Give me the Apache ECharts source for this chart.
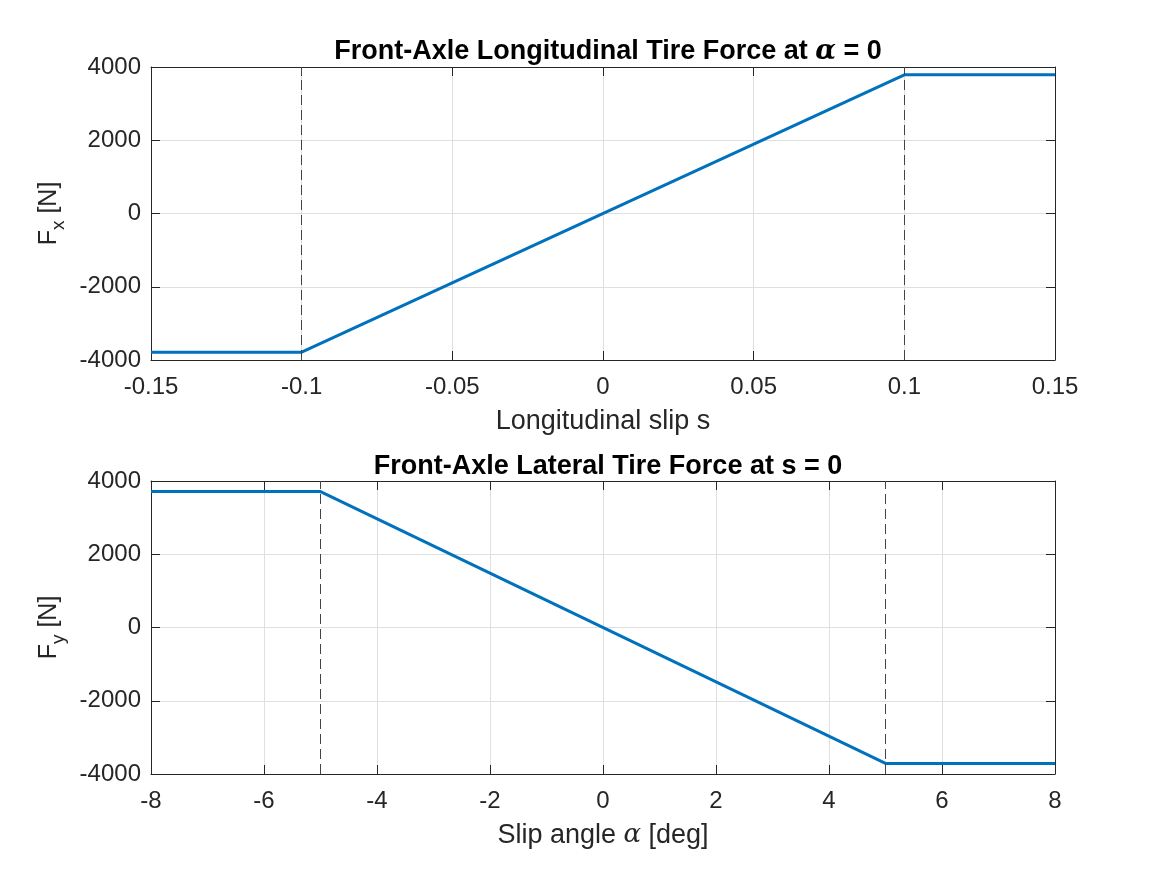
<!DOCTYPE html>
<html>
<head>
<meta charset="utf-8">
<script src="https://cdn.jsdelivr.net/npm/echarts@6/dist/echarts.min.js"></script>
<style>
  html, body { margin: 0; padding: 0; background: #fff; }
  #main { width: 1167px; height: 875px; }
</style>
</head>
<body>
<div id="main"></div>
<script>
// top panel: longitudinal force vs slip
var slipS = [-0.15, -0.1, 0.1, 0.15];
var forceFx = [-3785, -3785, 3785, 3785];
var slipPeak = [-0.1, 0.1];
var slipTicks = [-0.15, 0.15, 0.05];

// bottom panel: lateral force vs slip angle
var alphaDeg = [-8, -5, 5, 8];
var forceFy = [3710, 3710, -3710, -3710];
var alphaPeak = [-5, 5];
var alphaTicks = [-8, 8, 2];

var forceTicks = [-4000, 4000, 2000];

var myChart = echarts.init(document.getElementById('main'));

var font = '"Liberation Sans", Arial, sans-serif';
var greek = '"DejaVu Serif", serif';
var txt = '#262626';
var frame = '#262626';
var lineBlue = '#0072BD';

function pairs(xs, ys) {
    return xs.map(function (x, i) { return [x, ys[i]]; });
}

function plain(v) {
    return String(Math.round(v * 1000) / 1000);
}

function mainX(idx, ticks, name) {
    return {
        gridIndex: idx, type: 'value',
        min: ticks[0], max: ticks[1], interval: ticks[2],
        name: name, nameLocation: 'middle', nameGap: 48,
        nameTextStyle: {
            color: txt, fontFamily: font, fontSize: 27,
            rich: {
                n: { color: txt, fontFamily: font, fontSize: 27 },
                g: { color: txt, fontFamily: greek, fontStyle: 'italic', fontSize: 26 }
            }
        },
        axisLine: { onZero: false, lineStyle: { color: frame, width: 1 } },
        axisTick: { inside: true, length: 9, lineStyle: { color: frame } },
        axisLabel: { color: txt, fontFamily: font, fontSize: 24, margin: 15, formatter: plain },
        splitLine: { show: true, lineStyle: { color: '#dfdfdf', width: 1 } }
    };
}

function boxX(idx, ticks) {
    return {
        gridIndex: idx, type: 'value', position: 'top',
        min: ticks[0], max: ticks[1], interval: ticks[2],
        axisLine: { onZero: false, lineStyle: { color: frame, width: 1 } },
        axisTick: { inside: true, length: 9, lineStyle: { color: frame } },
        axisLabel: { show: false },
        splitLine: { show: false }
    };
}

function mainY(idx, sub) {
    return {
        gridIndex: idx, type: 'value',
        min: forceTicks[0], max: forceTicks[1], interval: forceTicks[2],
        name: '{n|F}{s|' + sub + '}{n| [N]}', nameLocation: 'middle', nameGap: 82,
        nameTextStyle: {
            rich: {
                n: { color: txt, fontFamily: font, fontSize: 25 },
                s: { color: txt, fontFamily: font, fontSize: 19, padding: [20, 0, 0, 0] }
            }
        },
        axisLine: { onZero: false, lineStyle: { color: frame, width: 1 } },
        axisTick: { inside: true, length: 9, lineStyle: { color: frame } },
        axisLabel: { color: txt, fontFamily: font, fontSize: 24, margin: 10, formatter: plain },
        splitLine: { show: true, lineStyle: { color: '#dfdfdf', width: 1 } }
    };
}

function boxY(idx) {
    return {
        gridIndex: idx, type: 'value', position: 'right',
        min: forceTicks[0], max: forceTicks[1], interval: forceTicks[2],
        axisLine: { onZero: false, lineStyle: { color: frame, width: 1 } },
        axisTick: { inside: true, length: 9, lineStyle: { color: frame } },
        axisLabel: { show: false },
        splitLine: { show: false }
    };
}

function peakLines(vals) {
    return {
        silent: true, symbol: 'none', label: { show: false },
        lineStyle: { color: '#444444', type: [10, 5], width: 1 },
        data: vals.map(function (v) { return { xAxis: v }; })
    };
}

var titleStyle = {
    color: '#000', fontFamily: font, fontSize: 27, fontWeight: 'bold',
    rich: {
        b: { color: '#000', fontFamily: font, fontSize: 27, fontWeight: 'bold' },
        g: { color: '#000', fontFamily: greek, fontStyle: 'italic', fontSize: 27 }
    }
};

myChart.setOption({
    backgroundColor: '#fff',
    animation: false,
    title: [
        { text: '{b|Front-Axle Longitudinal Tire Force at }{g|α}{b| = 0}', left: 603, top: 33, textAlign: 'center', textStyle: titleStyle },
        { text: '{b|Front-Axle Lateral Tire Force at s = 0}', left: 603, top: 448, textAlign: 'center', textStyle: titleStyle }
    ],
    grid: [
        { left: 151, right: 112, top: 67, height: 293 },
        { left: 151, right: 112, top: 481, height: 293 }
    ],
    xAxis: [
        mainX(0, slipTicks, 'Longitudinal slip s'),
        mainX(1, alphaTicks, '{n|Slip angle }{g|α}{n| [deg]}'),
        boxX(0, slipTicks),
        boxX(1, alphaTicks)
    ],
    yAxis: [
        mainY(0, 'x'),
        mainY(1, 'y'),
        boxY(0),
        boxY(1)
    ],
    series: [
        {
            type: 'line', xAxisIndex: 0, yAxisIndex: 0,
            data: pairs(slipS, forceFx), showSymbol: false,
            lineStyle: { color: lineBlue, width: 3 },
            markLine: peakLines(slipPeak)
        },
        {
            type: 'line', xAxisIndex: 1, yAxisIndex: 1,
            data: pairs(alphaDeg, forceFy), showSymbol: false,
            lineStyle: { color: lineBlue, width: 3 },
            markLine: peakLines(alphaPeak)
        }
    ]
});
</script>
</body>
</html>
